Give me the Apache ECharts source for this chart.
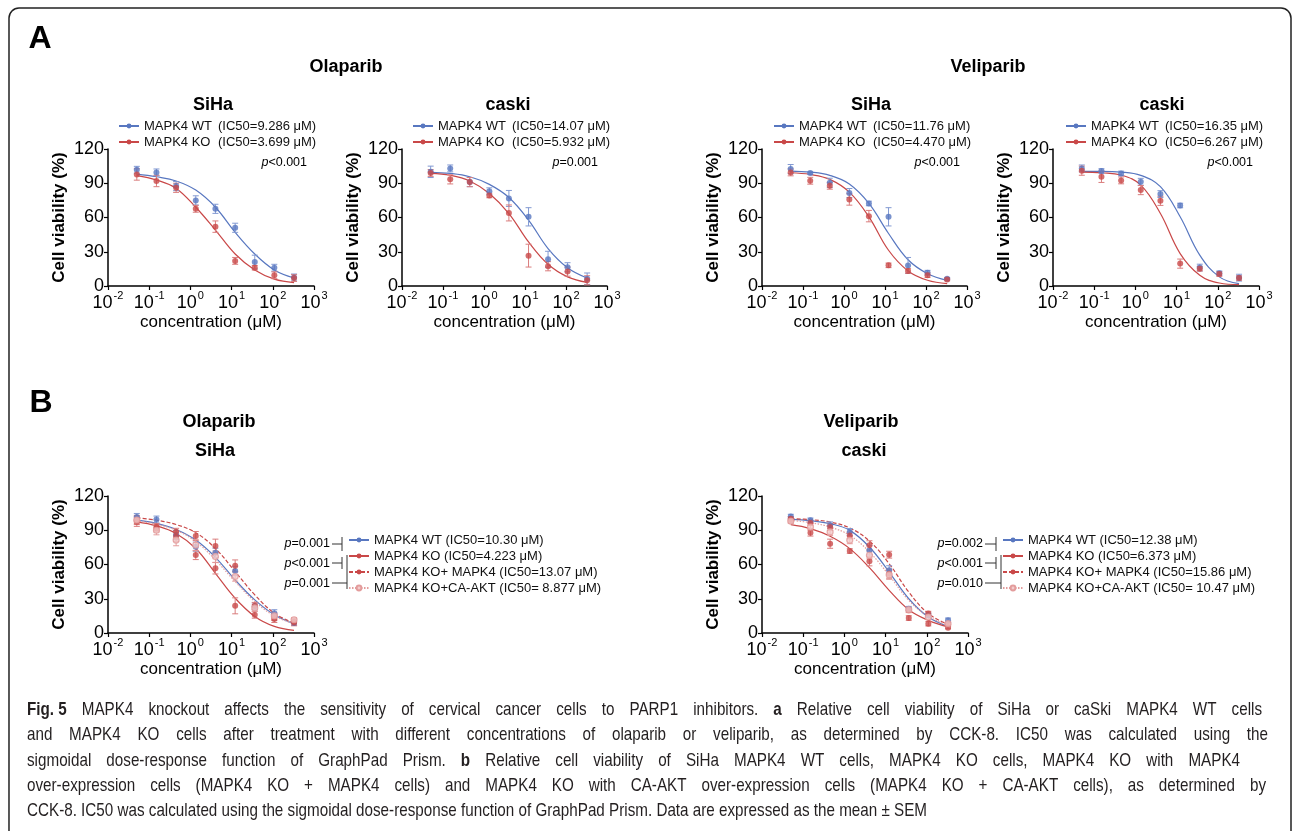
<!DOCTYPE html>
<html>
<head>
<meta charset="utf-8">
<script src="https://cdn.jsdelivr.net/npm/echarts@6/dist/echarts.min.js"></script>
<style>
  html, body { margin: 0; background: #fff; }
  #main { width: 1293px; height: 831px; }
</style>
</head>
<body>
<div id="main"></div>
<script>
// drug concentrations (uM), shared by every panel
var conc = [0.05, 0.15, 0.45, 1.35, 4.05, 12.2, 36.5, 109, 328];

// A - olaparib, SiHa
var aOlaSihaWT = [101.8, 99.5, 87.5, 75, 67.6, 51, 21, 16, 7.5];
var aOlaSihaWTErr = [3, 3, 4, 4, 4, 4, 6, 3, 3];
var aOlaSihaWTFit = [98, 95.7, 92, 84, 69, 47, 28, 14, 7];
var aOlaSihaKO = [97.7, 92, 86, 67.6, 52, 22, 16, 9.4, 7];
var aOlaSihaKOErr = [5, 5, 4, 3, 5, 3, 2, 3, 3];
var aOlaSihaKOFit = [96.6, 92.8, 85.5, 69, 49, 28, 14, 6, 3];

// A - olaparib, caski
var aOlaCaskiWT = [100, 103, 91, 83, 76.7, 60.6, 23.4, 16.4, 6.4];
var aOlaCaskiWTErr = [5, 3, 4, 3, 7, 8, 7, 4, 5];
var aOlaCaskiWTFit = [99.5, 98.6, 95.7, 89, 77.5, 57.7, 32.8, 16, 7];
var aOlaCaskiKO = [99, 93.4, 91, 79.3, 64, 26.6, 17.3, 12.6, 5];
var aOlaCaskiKOErr = [3, 4, 4, 2, 7, 10, 4, 4, 4];
var aOlaCaskiKOFit = [98.6, 97, 92, 81, 63.5, 38.6, 19, 8, 3.2];

// A - veliparib, SiHa
var aVelSihaWT = [102.4, 99, 90.4, 81.4, 72.3, 60.6, 18, 11.7, 6.4];
var aVelSihaWTErr = [4, 1, 4, 4, 2, 8, 7, 2, 1];
var aVelSihaWTFit = [100.7, 99.8, 96.9, 89.3, 72.3, 46, 23, 10.8, 5];
var aVelSihaKO = [99.5, 92.2, 87.8, 75.8, 61.2, 18.1, 13.2, 9.5, 5.6];
var aVelSihaKOErr = [3, 3, 3, 5, 5, 2, 2, 2, 1];
var aVelSihaKOFit = [99.2, 97.7, 93.4, 82.2, 60.6, 31.3, 13.2, 5, 2];

// A - veliparib, caski
var aVelCaskiWT = [103, 100.7, 98.6, 91.3, 80.5, 70.5, 16.1, 11.1, 7.3];
var aVelCaskiWTErr = [3, 2, 2, 3, 3, 2, 3, 2, 3];
var aVelCaskiWTFit = [100.4, 100.4, 99.8, 96.9, 87, 60.6, 27, 8, 2];
var aVelCaskiKO = [101, 95.7, 92.5, 84, 74.6, 19.6, 15.2, 10.5, 7];
var aVelCaskiKOErr = [4, 5, 3, 4, 4, 4, 2, 2, 2];
var aVelCaskiKOFit = [99.8, 99.2, 97.2, 88.4, 63.5, 28.4, 9.4, 2.6, 1.2];

// B - olaparib, SiHa
var bOlaWT = [101.7, 99.4, 85.8, 75.6, 70.3, 54.4, 23.3, 17.4, 8.7];
var bOlaWTErr = [3, 3, 4, 4, 4, 4, 3, 3, 2];
var bOlaWTFit = [98.8, 96, 90.7, 81.4, 66.3, 46.5, 29, 16, 8.1];
var bOlaKO = [97.4, 93, 88.7, 68.3, 56.7, 23.8, 16, 12.2, 9.3];
var bOlaKOErr = [4, 3, 3, 4, 5, 7, 3, 3, 3];
var bOlaKOFit = [97.4, 93.9, 87.2, 74, 52.3, 30.5, 14.5, 5.8, 2.3];
var bOlaKM = [99, 91.6, 84.3, 84.9, 76.2, 59, 23.8, 14, 10];
var bOlaKMErr = [4, 3, 4, 4, 6, 5, 3, 3, 3];
var bOlaKMFit = [100.9, 98.8, 95, 87.8, 74, 53.8, 33.4, 17.4, 8.7];
var bOlaAKT = [99, 90, 81.4, 77, 66.9, 49.4, 22, 15, 11.6];
var bOlaAKTErr = [3, 4, 5, 5, 5, 4, 3, 3, 2];
var bOlaAKTFit = [98.3, 95.3, 90, 80, 64, 45, 27.6, 15, 8.1];

// B - veliparib, caski
var bVelWT = [102, 98.7, 94.3, 88.5, 72.4, 54.9, 21.3, 15.5, 11.1];
var bVelWTErr = [2, 2, 3, 3, 4, 4, 2, 2, 2];
var bVelWTFit = [99.6, 98.4, 95.8, 89.9, 75.3, 53.4, 30, 14, 5.8];
var bVelKO = [99, 87.9, 78.2, 71.8, 62.8, 52, 13.1, 8.2, 4.7];
var bVelKOErr = [2, 3, 4, 2, 4, 4, 2, 2, 1];
var bVelKOFit = [94.9, 91.4, 84.7, 73.9, 57.2, 37.4, 20.4, 11.1, 5.3];
var bVelKM = [100, 96.4, 92.8, 85.5, 76.8, 68.6, 19.9, 17, 7.6];
var bVelKMErr = [2, 2, 3, 3, 4, 3, 2, 2, 2];
var bVelKMFit = [100.1, 99.3, 97.2, 92, 80.6, 60.7, 35.9, 17, 7.6];
var bVelAKT = [98, 92.8, 88.5, 81.2, 68, 51, 20.4, 14, 8.2];
var bVelAKTErr = [2, 3, 3, 3, 3, 4, 2, 2, 2];
var bVelAKTFit = [98.7, 96.6, 92.8, 85.5, 71, 50.5, 28.6, 14.6, 6.7];

var xTicks = [0.01, 0.1, 1, 10, 100, 1000];
var yTicks = [0, 30, 60, 90, 120];

var FONT = '"Liberation Sans", Arial, Helvetica, sans-serif';
var BLUE = '#5877c0', BLUE_E = '#8299d2';
var RED = '#c94848', RED_E = '#da7d7d';
var PINK = '#e39c9c';

var wt = {label: 'MAPK4 WT', color: BLUE, err: BLUE_E, line: 'solid'};
var ko = {label: 'MAPK4 KO', color: RED, err: RED_E, line: 'solid'};
var km = {label: 'MAPK4 KO+ MAPK4', color: RED, err: RED_E, line: [4, 2]};
var akt = {label: 'MAPK4 KO+CA-AKT', color: PINK, err: PINK, line: [1.5, 1.5], ring: true};

var panels = [
  {grid: [108, 149, 206, 137], legend: [118, 119], cols: true, groups: [
    [wt, '(IC50=9.286 μM)', aOlaSihaWT, aOlaSihaWTErr, aOlaSihaWTFit],
    [ko, '(IC50=3.699 μM)', aOlaSihaKO, aOlaSihaKOErr, aOlaSihaKOFit]]},
  {grid: [402, 149, 205, 137], legend: [412, 119], cols: true, groups: [
    [wt, '(IC50=14.07 μM)', aOlaCaskiWT, aOlaCaskiWTErr, aOlaCaskiWTFit],
    [ko, '(IC50=5.932 μM)', aOlaCaskiKO, aOlaCaskiKOErr, aOlaCaskiKOFit]]},
  {grid: [762, 149, 205, 137], legend: [773, 119], cols: true, groups: [
    [wt, '(IC50=11.76 μM)', aVelSihaWT, aVelSihaWTErr, aVelSihaWTFit],
    [ko, '(IC50=4.470 μM)', aVelSihaKO, aVelSihaKOErr, aVelSihaKOFit]]},
  {grid: [1053, 149, 206, 137], legend: [1065, 119], cols: true, groups: [
    [wt, '(IC50=16.35 μM)', aVelCaskiWT, aVelCaskiWTErr, aVelCaskiWTFit],
    [ko, '(IC50=6.267 μM)', aVelCaskiKO, aVelCaskiKOErr, aVelCaskiKOFit]]},
  {grid: [108, 496, 206, 137], legend: [348, 533], cols: false, groups: [
    [wt, '(IC50=10.30 μM)', bOlaWT, bOlaWTErr, bOlaWTFit],
    [ko, '(IC50=4.223 μM)', bOlaKO, bOlaKOErr, bOlaKOFit],
    [km, '(IC50=13.07 μM)', bOlaKM, bOlaKMErr, bOlaKMFit],
    [akt, '(IC50= 8.877 μM)', bOlaAKT, bOlaAKTErr, bOlaAKTFit]]},
  {grid: [762, 496, 206, 137], legend: [1002, 533], cols: false, groups: [
    [wt, '(IC50=12.38 μM)', bVelWT, bVelWTErr, bVelWTFit],
    [ko, '(IC50=6.373 μM)', bVelKO, bVelKOErr, bVelKOFit],
    [km, '(IC50=15.86 μM)', bVelKM, bVelKMErr, bVelKMFit],
    [akt, '(IC50= 10.47 μM)', bVelAKT, bVelAKTErr, bVelAKTFit]]}
];

function errorBar(params, api) {
  var x = api.value(0);
  var lo = api.coord([x, api.value(1)]);
  var hi = api.coord([x, api.value(2)]);
  var style = {stroke: api.visual('color'), lineWidth: 1};
  return {type: 'group', children: [
    {type: 'line', shape: {x1: lo[0], y1: lo[1], x2: hi[0], y2: hi[1]}, style: style},
    {type: 'line', shape: {x1: lo[0] - 3, y1: lo[1], x2: lo[0] + 3, y2: lo[1]}, style: style},
    {type: 'line', shape: {x1: hi[0] - 3, y1: hi[1], x2: hi[0] + 3, y2: hi[1]}, style: style}
  ]};
}

var grids = [], xAxes = [], yAxes = [], series = [], legends = [];

panels.forEach(function (p, i) {
  grids.push({left: p.grid[0], top: p.grid[1], width: p.grid[2], height: p.grid[3]});
  xAxes.push({
    type: 'log', logBase: 10, gridIndex: i,
    min: xTicks[0], max: xTicks[xTicks.length - 1],
    axisLine: {lineStyle: {color: '#000', width: 1.5}},
    axisTick: {length: 4, lineStyle: {color: '#000', width: 1.2}},
    splitLine: {show: false},
    axisLabel: {
      margin: 4, color: '#000',
      formatter: function (v) { return '{b|10}{s|' + Math.round(Math.log10(v)) + '}'; },
      rich: {
        b: {fontSize: 18, fontFamily: FONT, color: '#000', verticalAlign: 'bottom', lineHeight: 22},
        s: {fontSize: 11, fontFamily: FONT, color: '#000', verticalAlign: 'top', lineHeight: 22, padding: [0, 0, 0, 1]}
      }
    },
    name: 'concentration (μM)', nameLocation: 'middle', nameGap: 28,
    nameTextStyle: {fontSize: 17, color: '#000', fontFamily: FONT}
  });
  yAxes.push({
    type: 'value', gridIndex: i,
    min: yTicks[0], max: yTicks[yTicks.length - 1], interval: yTicks[1] - yTicks[0],
    axisLine: {show: true, lineStyle: {color: '#000', width: 1.5}},
    axisTick: {show: true, length: 4, lineStyle: {color: '#000', width: 1.2}},
    splitLine: {show: false},
    axisLabel: {fontSize: 18, color: '#000', margin: 4, fontFamily: FONT},
    name: 'Cell viability (%)', nameLocation: 'middle', nameGap: 40,
    nameTextStyle: {fontSize: 17, fontWeight: 'bold', color: '#000', fontFamily: FONT}
  });

  var names = [], labels = {};
  p.groups.forEach(function (g, j) {
    var s = g[0], id = 'p' + i + 'g' + j;
    names.push(id);
    labels[id] = p.cols ? '{n|' + s.label + '}{v|' + g[1] + '}' : s.label + ' ' + g[1];
    var itemStyle = s.ring
      ? {color: '#f3cccc', borderColor: PINK, borderWidth: 1.2}
      : {color: s.color};
    series.push({
      type: 'line', name: id, xAxisIndex: i, yAxisIndex: i,
      data: conc.map(function (c, k) { return [c, g[4][k]]; }),
      smooth: 0.4, showSymbol: false, symbol: 'circle',
      lineStyle: {color: s.color, width: 1.2, type: s.line},
      itemStyle: itemStyle, silent: true, z: 2
    });
    series.push({
      type: 'custom', xAxisIndex: i, yAxisIndex: i, renderItem: errorBar,
      itemStyle: {color: s.err}, silent: true, z: 3,
      encode: {x: 0, y: [1, 2]},
      data: conc.map(function (c, k) { return [c, g[2][k] - g[3][k], g[2][k] + g[3][k]]; })
    });
    series.push({
      type: 'scatter', xAxisIndex: i, yAxisIndex: i,
      data: conc.map(function (c, k) { return [c, g[2][k]]; }),
      symbolSize: 6, itemStyle: itemStyle, silent: true, z: 4
    });
  });

  legends.push({
    orient: 'vertical', left: p.legend[0], top: p.legend[1], padding: 0,
    itemWidth: 20, itemHeight: 6, itemGap: 2, selectedMode: false,
    data: names,
    formatter: function (n) { return labels[n]; },
    textStyle: {
      fontSize: 13, color: '#111', fontFamily: FONT, lineHeight: 14,
      rich: {
        n: {width: 74, fontSize: 13, fontFamily: FONT, color: '#111'},
        v: {fontSize: 13, fontFamily: FONT, color: '#111'}
      }
    }
  });
});

// ---- texts and annotations ----
function txt(x, y, text, font, align, extra) {
  var st = {text: text, font: font, fill: '#000',
    align: align || 'center', verticalAlign: 'middle',
    textAlign: align || 'center', textVerticalAlign: 'middle'};
  if (extra) for (var k in extra) st[k] = extra[k];
  return {type: 'text', x: x, y: y, style: st, silent: true};
}
var H2 = 'bold 18px ' + FONT;
var PF = '12.5px ' + FONT;
var pRich = {i: {fontStyle: 'italic', font: 'italic 12.5px ' + FONT}};

function pval(x, y, t) {
  return txt(x, y, '{i|p}' + t, PF, 'right', {rich: pRich});
}
function seg(pts) {
  return {type: 'polyline', shape: {points: pts}, style: {stroke: '#333', lineWidth: 1, fill: null}, silent: true};
}

var gfx = [
  {type: 'rect', shape: {x: 9, y: 8, width: 1282, height: 900, r: 10},
   style: {fill: null, stroke: '#222', lineWidth: 1.5}, silent: true},
  txt(40, 39, 'A', 'bold 32px ' + FONT),
  txt(41, 403, 'B', 'bold 32px ' + FONT),
  txt(346, 67, 'Olaparib', H2),
  txt(988, 67, 'Veliparib', H2),
  txt(213, 105, 'SiHa', H2),
  txt(508, 105, 'caski', H2),
  txt(871, 105, 'SiHa', H2),
  txt(1162, 105, 'caski', H2),
  txt(219, 422, 'Olaparib', H2),
  txt(215, 451, 'SiHa', H2),
  txt(861, 422, 'Veliparib', H2),
  txt(864, 451, 'caski', H2),
  pval(307, 163, '<0.001'),
  pval(598, 163, '=0.001'),
  pval(960, 163, '<0.001'),
  pval(1253, 163, '<0.001'),
  // B, olaparib brackets
  pval(330, 544, '=0.001'),
  pval(330, 564, '<0.001'),
  pval(330, 584, '=0.001'),
  seg([[332, 544], [342, 544]]), seg([[342, 537], [342, 551]]),
  seg([[332, 563], [342, 563]]), seg([[342, 557], [342, 569]]),
  seg([[332, 583], [347, 583]]), seg([[347, 555], [347, 589]]),
  // B, veliparib brackets
  pval(983, 544, '=0.002'),
  pval(983, 564, '<0.001'),
  pval(983, 584, '=0.010'),
  seg([[985, 544], [996, 544]]), seg([[996, 537], [996, 551]]),
  seg([[985, 563], [996, 563]]), seg([[996, 557], [996, 569]]),
  seg([[985, 583], [1001, 583]]), seg([[1001, 555], [1001, 589]])
];

// caption: narrow glyphs, justified lines (last one ragged)
var capLines = [
  '{b|Fig.\u00a05} MAPK4 knockout affects the sensitivity of cervical cancer cells to PARP1 inhibitors. {b|a} Relative cell viability of SiHa or caSki MAPK4 WT cells',
  'and MAPK4 KO cells after treatment with different concentrations of olaparib or veliparib, as determined by CCK-8. IC50 was calculated using the',
  'sigmoidal dose-response function of GraphPad Prism. {b|b} Relative cell viability of SiHa MAPK4 WT cells, MAPK4 KO cells, MAPK4 KO with MAPK4',
  'over-expression cells (MAPK4 KO + MAPK4 cells) and MAPK4 KO with CA-AKT over-expression cells (MAPK4 KO + CA-AKT cells), as determined by',
  'CCK-8. IC50 was calculated using the sigmoidal dose-response function of GraphPad Prism. Data are expressed as the mean ± SEM'
];
var capWidths = [1235, 1241, 1213, 1239, 900];
var capFont = '19px ' + FONT;
var ctx = document.createElement('canvas').getContext('2d');
function wordWidth(w) {
  var m = w.match(/^\{b\|([^}]*)\}(.*)$/);
  ctx.font = 'bold ' + capFont;
  var bw = m ? ctx.measureText(m[1]).width : 0;
  ctx.font = capFont;
  return bw + ctx.measureText(m ? m[2] : w).width;
}
ctx.font = capFont;
var capScale = capWidths[4] / ctx.measureText(capLines[4]).width;
var spaceW = ctx.measureText(' ').width;
capLines.forEach(function (line, k) {
  var words = line.split(' ');
  var inner = words.reduce(function (a, w) { return a + wordWidth(w); }, 0);
  var gap = k < 4 ? (capWidths[k] / capScale - inner) / (words.length - 1) : spaceW;
  gfx.push({
    type: 'text', x: 27, y: 710 + k * 25.2, scaleX: capScale, silent: true,
    style: {text: words.join('{sp| }'), font: capFont, fill: '#231f20', align: 'left', verticalAlign: 'middle',
      textAlign: 'left', textVerticalAlign: 'middle',
      rich: {b: {font: 'bold ' + capFont, fill: '#231f20'}, sp: {width: gap, font: capFont}}}
  });
});

var chart = echarts.init(document.getElementById('main'));
chart.setOption({
  animation: false,
  textStyle: {fontFamily: FONT},
  grid: grids,
  xAxis: xAxes,
  yAxis: yAxes,
  legend: legends,
  series: series,
  graphic: gfx
});
</script>
</body>
</html>
